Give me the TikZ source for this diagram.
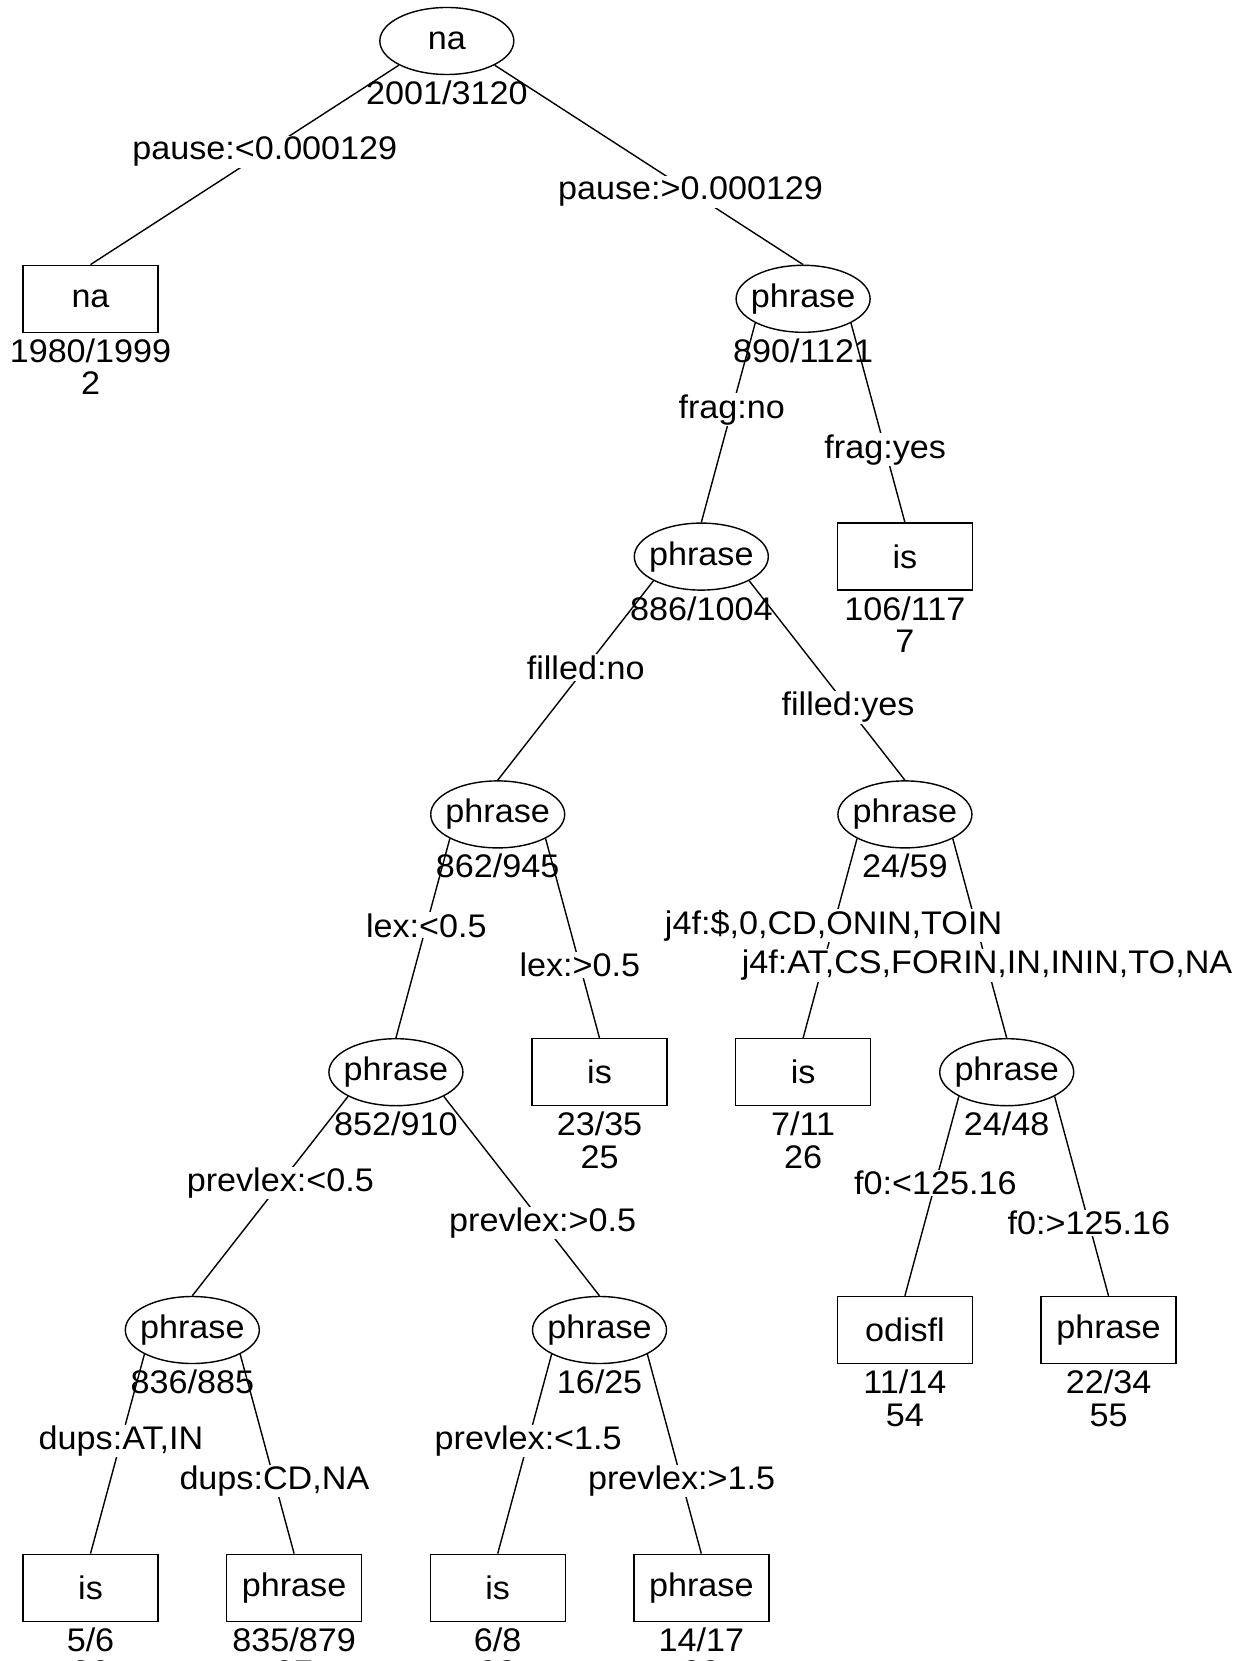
\documentclass[tikz,border=0pt]{standalone}
\usepackage{fontspec}
\setmainfont{Liberation Sans}[FakeStretch=1.045]
\usetikzlibrary{shapes.geometric}

\newcommand{\nd}[1]{\makebox[0pt]{#1}}

\tikzset{
  split/.style={ellipse, draw, fill=white, minimum width=1.34cm, minimum height=0.67cm, inner sep=0pt},
  leaf/.style={rectangle, draw, fill=white, minimum width=1.35cm, minimum height=0.67cm, inner sep=0pt},
  cnt/.style={inner sep=0pt, anchor=base},
  cut/.style={fill=white, inner xsep=1pt, inner ysep=0.3pt},
}

\begin{document}
\begin{tikzpicture}[font=\fontsize{9.3}{11}\selectfont]
\useasboundingbox (0,0) rectangle (12.38,-16.61);
\fill[white] (0,0) rectangle (12.38,-16.61);

% splits
\node[split] (n1) at (4.468,-0.41) {\nd{na}};
\node[split] (n3) at (8.031,-2.988) {\nd{phrase}};
\node[split] (n6) at (7.013,-5.566) {\nd{phrase}};
\node[split] (n12) at (4.977,-8.144) {\nd{phrase}};
\node[split] (n13) at (9.049,-8.144) {\nd{phrase}};
\node[split] (n24) at (3.959,-10.722) {\nd{phrase}};
\node[split] (n27) at (10.067,-10.722) {\nd{phrase}};
\node[split] (n48) at (1.923,-13.30) {\nd{phrase}};
\node[split] (n49) at (5.995,-13.30) {\nd{phrase}};

% leaves
\node[leaf] (n2) at (0.905,-2.988) {na};
\node[leaf] (n7) at (9.049,-5.566) {is};
\node[leaf] (n25) at (5.995,-10.722) {is};
\node[leaf] (n26) at (8.031,-10.722) {is};
\node[leaf] (n54) at (9.049,-13.30) {odisfl};
\node[leaf] (n55) at (11.085,-13.30) {phrase};
\node[leaf] (n96) at (0.905,-15.878) {is};
\node[leaf] (n97) at (2.941,-15.878) {phrase};
\node[leaf] (n98) at (4.977,-15.878) {is};
\node[leaf] (n99) at (7.013,-15.878) {phrase};

% counts
\foreach \n/\t in {1/{2001/3120}, 3/{890/1121}, 6/{886/1004}, 12/{862/945},
    13/{24/59}, 24/{852/910}, 27/{24/48}, 48/{836/885}, 49/{16/25},
    2/{1980/1999}, 7/{106/117}, 25/{23/35}, 26/{7/11}, 54/{11/14},
    55/{22/34}, 96/{5/6}, 97/{835/879}, 98/{6/8}, 99/{14/17}}
  \node[cnt] (c\n) at ([yshift=-0.635cm]n\n.center) {\t};

% leaf numbers
\foreach \n in {2,7,25,26,54,55,96,97,98,99}
  \node[cnt] (k\n) at ([yshift=-0.96cm]n\n.center) {\n};

\def\edges{1/2/west/.435/{pause:<0.000129}, 1/3/east/.635/{pause:>0.000129},
  3/6/west/.435/{frag:no}, 3/7/east/.635/{frag:yes},
  6/12/west/.435/{filled:no}, 6/13/east/.635/{filled:yes},
  12/24/west/.435/{lex:<0.5}, 12/25/east/.635/{lex:>0.5},
  13/26/west/.435/{j4f:\$,0,CD,ONIN,TOIN}, 13/27/east/.635/{j4f:AT,CS,FORIN,IN,ININ,TO,NA},
  24/48/west/.435/{prevlex:<0.5}, 24/49/east/.635/{prevlex:>0.5},
  27/54/west/.435/{f0:<125.16}, 27/55/east/.635/{f0:>125.16},
  48/96/west/.435/{dups:AT,IN}, 48/97/east/.635/{dups:CD,NA},
  49/98/west/.435/{prevlex:<1.5}, 49/99/east/.635/{prevlex:>1.5}}

% branches first, split labels on top
\foreach \p/\c/\s/\f/\t in \edges
  \draw (n\p.south \s) -- (n\c.north);
\foreach \p/\c/\s/\f/\t in \edges
  \path (n\p.south \s) -- node[cut, pos=\f] (e\c) {\t} (n\c.north);
\end{tikzpicture}
\end{document}
